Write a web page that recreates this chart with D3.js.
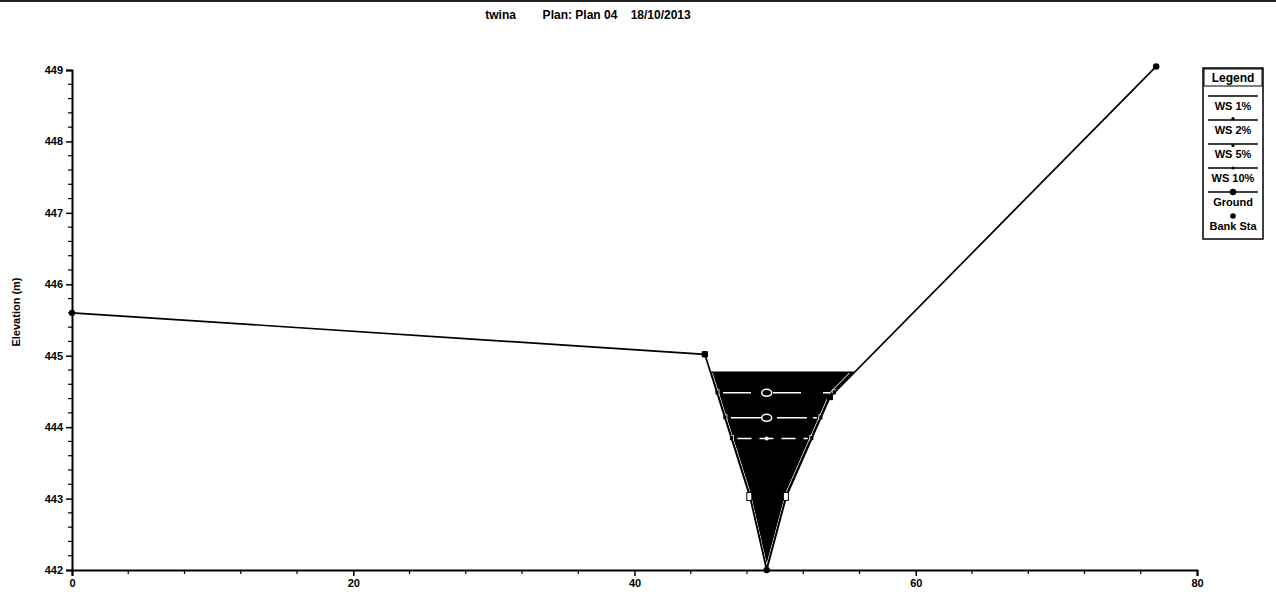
<!DOCTYPE html>
<html><head><meta charset="utf-8">
<script src="https://cdn.jsdelivr.net/npm/d3@7"></script>
<style>
body{margin:0;background:#fff;}
svg text{font-family:"Liberation Sans Narrow","Liberation Sans",Arial,sans-serif;font-weight:bold;fill:#000;}
</style></head>
<body><svg id="c" width="1276" height="594"></svg>
<script>
// ---- data ----
const titleParts = ["twina", "Plan: Plan 04", "18/10/2013"];
const stations   = [0, 45.0, 48.2, 49.4, 50.8, 53.9, 77.1];
const elevations = [445.6, 445.02, 443.03, 442.0, 443.03, 444.42, 449.05];
const groundDots = [0, 45.0, 49.4, 77.1];
const bankSta    = [45.0, 53.9];
const wsNames    = ["WS 1%", "WS 2%", "WS 5%", "WS 10%"];
const wsElev     = [444.77, 444.48, 444.13, 443.84];
const xTicks     = [0, 20, 40, 60, 80];
const yTicks     = [442, 443, 444, 445, 446, 447, 448, 449];
const legendNames = ["WS 1%", "WS 2%", "WS 5%", "WS 10%", "Ground", "Bank Sta"];

const svg = d3.select("#c");
const x = d3.scaleLinear().domain([0, 80]).range([72, 1197]);
const y = d3.scaleLinear().domain([442, 449]).range([570, 70]);

// top scan border
svg.append("line").attr("x1",0).attr("x2",1276).attr("y1",1).attr("y2",1)
  .attr("stroke","#222").attr("stroke-width",2);

// title
const title = svg.append("text").attr("x",588).attr("y",19).attr("text-anchor","middle")
  .attr("font-size",12);
title.text(titleParts[0] + "\u00a0\u00a0\u00a0\u00a0\u00a0\u00a0\u00a0\u00a0" + titleParts[1] + "\u00a0\u00a0\u00a0\u00a0" + titleParts[2]);

// axes
const xAxis = d3.axisBottom(x).tickValues(xTicks).tickSize(6).tickPadding(3).tickFormat(d3.format("d"));
const gx = svg.append("g").attr("transform","translate(0,570)").call(xAxis);
const yAxis = d3.axisLeft(y).tickValues(yTicks).tickSize(6).tickPadding(3).tickFormat(d3.format("d"));
const gy = svg.append("g").attr("transform","translate(72,0)").call(yAxis);
[gx, gy].forEach(g => {
  g.select(".domain").attr("stroke","#000").attr("stroke-width",2);
  g.selectAll(".tick line").attr("stroke","#000").attr("stroke-width",1.5);
  g.selectAll(".tick text").attr("font-size",11).style("font-family",'"Liberation Sans Narrow","Liberation Sans",Arial').style("font-weight","bold");
});
// minor ticks
const xMinor = d3.range(0, 81, 4).filter(v => v % 20 !== 0);
svg.append("g").selectAll("line").data(xMinor).join("line")
  .attr("x1",d=>x(d)).attr("x2",d=>x(d)).attr("y1",570).attr("y2",574)
  .attr("stroke","#000").attr("stroke-width",1.2);
const yMinor = d3.range(442, 449.01, 0.2).filter(v => Math.abs(v - Math.round(v)) > 0.01);
svg.append("g").selectAll("line").data(yMinor).join("line")
  .attr("x1",68).attr("x2",72).attr("y1",d=>y(d)).attr("y2",d=>y(d))
  .attr("stroke","#000").attr("stroke-width",1.2);

// y label
svg.append("text").attr("transform","translate(20,312) rotate(-90)")
  .attr("text-anchor","middle").attr("font-size",11).text("Elevation (m)");

// helpers: intersections of water surface with ground
const pts = stations.map((s,i)=>[s, elevations[i]]);
const iMin = d3.minIndex(elevations);
function crossings(ws){
  let li = iMin; while (li > 0 && pts[li-1][1] < ws) li--;
  let ri = iMin; while (ri < pts.length-1 && pts[ri+1][1] < ws) ri++;
  const a = pts[li-1], b = pts[li];
  const xl = a[0] + (ws - a[1]) * (b[0]-a[0]) / (b[1]-a[1]);
  const c = pts[ri], d = pts[ri+1];
  const xr = c[0] + (ws - c[1]) * (d[0]-c[0]) / (d[1]-c[1]);
  return {xl, xr, inner: pts.slice(li, ri+1)};
}

// water fill for highest WS
const wTop = crossings(wsElev[0]);
const poly = [[wTop.xl, wsElev[0]], ...wTop.inner, [wTop.xr, wsElev[0]]];
const line = d3.line().x(d=>x(d[0])).y(d=>y(d[1]));
svg.append("clipPath").attr("id","wclip").append("path").attr("d", line(poly) + "Z");
svg.append("path").attr("d", line(poly) + "Z").attr("fill","#000");

// inner white edge line following the ground (clipped)
svg.append("path").attr("d", line(pts)).attr("transform","translate(0,-4)")
  .attr("fill","none").attr("stroke","#fff").attr("stroke-width",1.3)
  .attr("clip-path","url(#wclip)");

// water surface lines
const dashes = [null, "28,22", "30,6,4,6", "14,8"];
const thalweg = x(stations[iMin]);
wsElev.forEach((ws,i)=>{
  const c = crossings(ws);
  const col = i === 0 ? "#000" : "#fff";
  svg.append("line").attr("x1",x(c.xl)+(i?6:0)).attr("x2",x(c.xr)-(i?4:0))
    .attr("y1",y(ws)).attr("y2",y(ws)).attr("stroke",col).attr("stroke-width",1.5)
    .attr("stroke-dasharray",dashes[i]);
  if (i > 0) {
    if (i < 3) {
      svg.append("ellipse").attr("cx",thalweg).attr("cy",y(ws)).attr("rx",5).attr("ry",3.5)
        .attr("fill","#000").attr("stroke","#fff").attr("stroke-width",1.5);
    } else {
      svg.append("circle").attr("cx",thalweg).attr("cy",y(ws)).attr("r",2).attr("fill","#fff");
    }
    [c.xl, c.xr].forEach(v=>{
      svg.append("rect").attr("x",x(v)-2).attr("y",y(ws)-3).attr("width",4).attr("height",5)
        .attr("fill","#000").attr("stroke","#fff").attr("stroke-width",0.8);
    });
  }
});

// ground line
svg.append("path").attr("d", line(pts)).attr("fill","none")
  .attr("stroke","#000").attr("stroke-width",1.7);
// ground markers
svg.append("g").selectAll("circle").data(groundDots).join("circle")
  .attr("cx",d=>x(d)).attr("cy",d=>y(elevations[stations.indexOf(d)])).attr("r",3.2).attr("fill","#000");
const midPts = stations.filter(s => !groundDots.includes(s) && !bankSta.includes(s));
svg.append("g").selectAll("rect").data(midPts).join("rect")
  .attr("x",d=>x(d)-3).attr("y",d=>y(elevations[stations.indexOf(d)])-4).attr("width",5).attr("height",8)
  .attr("fill","#fff").attr("stroke","#000").attr("stroke-width",1);
// bank stations
svg.append("g").selectAll("rect").data(bankSta).join("rect")
  .attr("x",d=>x(d)-3).attr("y",d=>y(elevations[stations.indexOf(d)])-3).attr("width",6).attr("height",6)
  .attr("fill","#000");

// legend
const lg = svg.append("g");
const lx = 1203, lw = 60;
lg.append("rect").attr("x",lx).attr("y",68).attr("width",lw).attr("height",171)
  .attr("fill","#fff").attr("stroke","#000").attr("stroke-width",1.5);
lg.append("rect").attr("x",lx+1).attr("y",69).attr("width",lw-2).attr("height",17)
  .attr("fill","none").attr("stroke","#000").attr("stroke-width",1);
lg.append("text").attr("x",lx+lw/2).attr("y",82).attr("text-anchor","middle").attr("font-size",12).text("Legend");
legendNames.forEach((n,i)=>{
  const ly = 96 + i*24;
  if (i < 5) {
    lg.append("line").attr("x1",lx+5).attr("x2",lx+lw-5).attr("y1",ly).attr("y2",ly)
      .attr("stroke","#000").attr("stroke-width",1.5);
  }
  if (i >= 1 && i <= 3) {
    lg.append("circle").attr("cx",lx+lw/2).attr("cy",ly - (i===1?1.5:i===2?-1.5:0)).attr("r",1.6).attr("fill","#000");
  }
  if (i >= 4) {
    lg.append("circle").attr("cx",lx+lw/2).attr("cy",ly).attr("r",i===4?3.2:2.8).attr("fill","#000");
  }
  lg.append("text").attr("x",lx+lw/2).attr("y",ly+14).attr("text-anchor","middle")
    .attr("font-size",11).text(n);
});
</script></body></html>
